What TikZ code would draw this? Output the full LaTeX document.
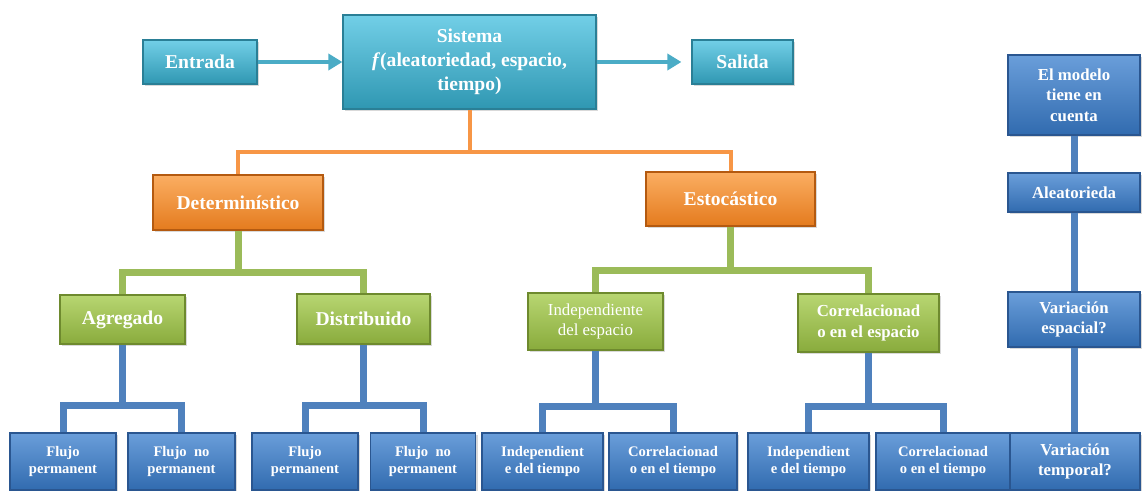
\documentclass[tikz,border=0pt]{standalone}
\usepackage{fontspec}
\setmainfont{Liberation Serif}
\usetikzlibrary{arrows.meta,shadows}
\definecolor{aquaTop}{HTML}{72CFE7}
\definecolor{aquaMid}{HTML}{3AB4D4}
\definecolor{aquaBot}{HTML}{2F97B2}
\definecolor{aquaEdge}{HTML}{2A7F96}
\definecolor{orangeTop}{HTML}{FBAE62}
\definecolor{orangeMid}{HTML}{F7932F}
\definecolor{orangeBot}{HTML}{E47B1E}
\definecolor{orangeEdge}{HTML}{B45A10}
\definecolor{greenTop}{HTML}{B8D672}
\definecolor{greenMid}{HTML}{9DC14A}
\definecolor{greenBot}{HTML}{89AB3C}
\definecolor{greenEdge}{HTML}{6E8A2E}
\definecolor{blueTop}{HTML}{6A9EDA}
\definecolor{blueMid}{HTML}{3C7DC8}
\definecolor{blueBot}{HTML}{316BAF}
\definecolor{blueEdge}{HTML}{2A5690}
\definecolor{aquaLine}{HTML}{4BACC6}
\definecolor{orangeLine}{HTML}{F79646}
\definecolor{greenLine}{HTML}{9BBB59}
\definecolor{blueLine}{HTML}{4F81BD}

\begin{document}
\begin{tikzpicture}[x=0.5pt, y=-0.5pt,
  box/.style={draw=#1Edge, line width=0.6pt, top color=#1Top, middle color=#1Mid,
    bottom color=#1Bot, text=white, font=\bfseries, align=center, inner sep=1pt,
    drop shadow={opacity=0.3, shadow xshift=1.2pt, shadow yshift=-1.2pt}},
  big/.style={font=\bfseries\fontsize{9.8}{12}\selectfont},
  mid/.style={font=\bfseries\fontsize{8.4}{10.2}\selectfont},
  small/.style={font=\bfseries\fontsize{7.3}{8.6}\selectfont},
  arr/.style={aquaLine, line width=2pt, -{Triangle[length=7pt,width=8pt]}},
  oline/.style={orangeLine, line width=2pt},
  gline/.style={greenLine, line width=3.5pt},
  bline/.style={blueLine, line width=3.5pt}]
  \useasboundingbox (0,0) rectangle (1142,491);

  % top row
  \node[box=aqua, big, minimum width=57pt, minimum height=22pt] (ent) at (200,62) {Entrada};
  \node[box=aqua, big, minimum width=126.5pt, minimum height=47pt] (sis) at (469.5,62)
    {Sistema\\\textit{f}(aleatoriedad, espacio,\\tiempo)};
  \node[box=aqua, big, minimum width=50.5pt, minimum height=22pt] (sal) at (742.5,62) {Salida};
  \draw[arr] (ent.east) -- (ent.east -| sis.west);
  \draw[arr, shorten >=5pt] (sis.east |- sal.west) -- (sal.west);

  % second level
  \node[box=orange, big, minimum width=85pt, minimum height=27.5pt] (det) at (238,202.5) {Determinístico};
  \node[box=orange, big, minimum width=84.5pt, minimum height=27pt] (est) at (730.5,199) {Estocástico};
  \draw[oline] (sis.south) -- ++(0,42) coordinate (o1) -| (det.north);
  \draw[oline] (o1) -| (est.north);

  % third level
  \node[box=green, big, minimum width=62.5pt, minimum height=24.5pt] (agr) at (122.5,319.5) {Agregado};
  \node[box=green, big, minimum width=66.5pt, minimum height=25pt] (dis) at (363.5,319) {Distribuido};
  \node[box=green, font=\fontsize{8.4}{10.2}\selectfont, minimum width=67.5pt, minimum height=28.5pt]
    (ies) at (595.5,321.5) {Independiente\\del espacio};
  \node[box=green, mid, minimum width=70.5pt, minimum height=29pt] (ces) at (868.5,323)
    {Correlacionad\\o en el espacio};
  \draw[gline] (det.south) -- ++(0,42) coordinate (g1) -| (agr.north);
  \draw[gline] (g1) -| (dis.north);
  \draw[gline] (est.south) -- ++(0,44) coordinate (g2) -| (ies.north);
  \draw[gline] (g2) -| (ces.north);

  % bottom row
  \node[box=blue, small, minimum width=53pt, minimum height=28.5pt] (f1) at (63,461.5) {Flujo\\permanent};
  \node[box=blue, small, minimum width=53.5pt, minimum height=28.5pt] (f2) at (181.5,461.5) {Flujo~~no\\permanent};
  \node[box=blue, small, minimum width=53pt, minimum height=28.5pt] (f3) at (305,461.5) {Flujo\\permanent};
  \node[box=blue, small, minimum width=52.5pt, minimum height=28.5pt] (f4) at (423,461.5) {Flujo~~no\\permanent};
  \node[box=blue, small, minimum width=60.5pt, minimum height=28.5pt] (f5) at (542.5,461.5) {Independient\\e del tiempo};
  \node[box=blue, small, minimum width=64pt, minimum height=28.5pt] (f6) at (673,461.5) {Correlacionad\\o en el tiempo};
  \node[box=blue, small, minimum width=60.5pt, minimum height=28.5pt] (f7) at (808.5,461.5) {Independient\\e del tiempo};
  \node[box=blue, small, minimum width=67pt, minimum height=28.5pt] (f8) at (943,461.5) {Correlacionad\\o en el tiempo};
  \draw[bline] (agr.south) -- ++(0,61) coordinate (b1) -| (f1.north);
  \draw[bline] (b1) -| (f2.north);
  \draw[bline] (dis.south) -- ++(0,61) coordinate (b2) -| (f3.north);
  \draw[bline] (b2) -| (f4.north);
  \draw[bline] (ies.south) -- ++(0,56) coordinate (b3) -| (f5.north);
  \draw[bline] (b3) -| (f6.north);
  \draw[bline] (ces.south) -- ++(0,54) coordinate (b4) -| (f7.north);
  \draw[bline] (b4) -| (f8.north);

  % right column
  \node[box=blue, mid, minimum width=66pt, minimum height=40pt] (m0) at (1074,95) {El modelo\\tiene en\\cuenta};
  \node[box=blue, mid, minimum width=66pt, minimum height=19.5pt] (m1) at (1074,192.5) {Aleatorieda};
  \node[box=blue, mid, minimum width=66pt, minimum height=27.5pt] (m2) at (1074,319.5) {Variación\\espacial?};
  \node[box=blue, mid, minimum width=65pt, minimum height=28.5pt] (m3) at (1075,461.5) {Variación\\temporal?};
  \draw[bline] (m0.south) -- (m1.north);
  \draw[bline] (m1.south) -- (m2.north);
  \draw[bline] (m2.south) -- (m2.south |- m3.north);
\end{tikzpicture}
\end{document}
